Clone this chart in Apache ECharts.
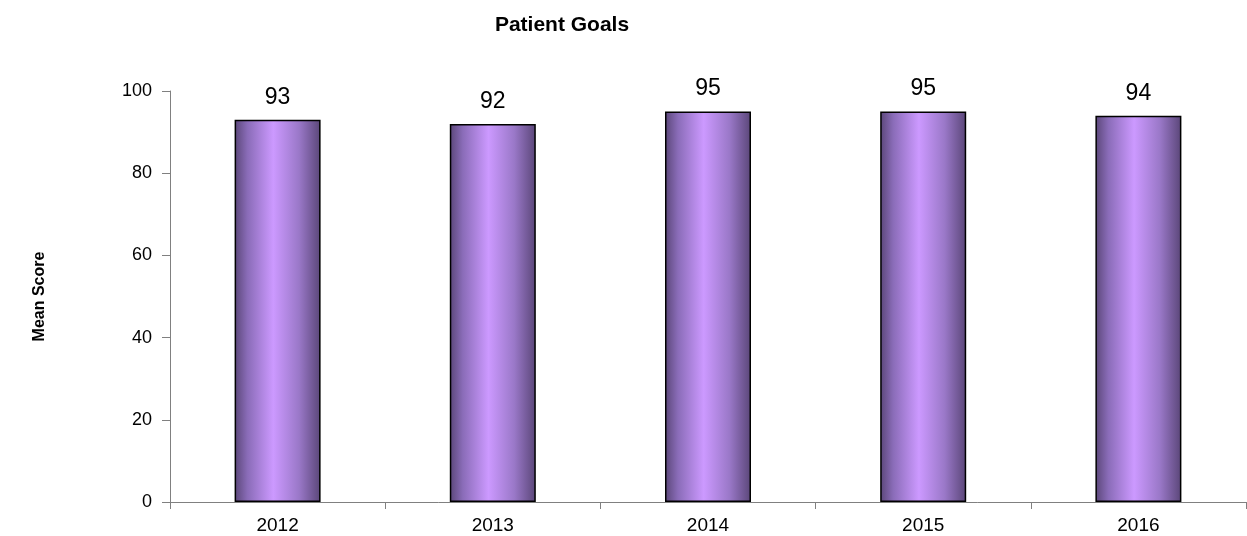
<!DOCTYPE html>
<html><head><meta charset="utf-8">
<script src="https://cdn.jsdelivr.net/npm/echarts@6/dist/echarts.min.js"></script>
<style>html,body{margin:0;padding:0;background:#fff}#c{width:1247px;height:536px}</style>
</head><body><div id="c"></div>
<script>
const categories = ['2012','2013','2014','2015','2016'];
const values = [93, 92, 95, 95, 94];
const yTicks = [0, 20, 40, 60, 80, 100];

const chart = echarts.init(document.getElementById('c'));
const grad = new echarts.graphic.LinearGradient(0,0,1,0,[
  {offset:0, color:'#5a4678'},
  {offset:0.15, color:'#8a6cb8'},
  {offset:0.45, color:'#cc99ff'},
  {offset:0.75, color:'#9a78c8'},
  {offset:1, color:'#5a4678'}
]);
chart.setOption({
  animation:false,
  title:{text:'Patient Goals', left:557, top:10, textAlign:'center',
    textStyle:{fontFamily:'Liberation Sans', fontWeight:'bold', fontSize:21, color:'#000'}},
  grid:{left:170, right:1, top:91, bottom:34},
  xAxis:{type:'category', data:categories,
    axisLine:{lineStyle:{color:'#808080', width:1}},
    axisTick:{show:true, inside:false, length:7, lineStyle:{color:'#808080'}},
    axisLabel:{fontFamily:'Liberation Sans', fontSize:19, color:'#000', margin:14}},
  yAxis:{type:'value', min:yTicks[0], max:yTicks[yTicks.length-1], interval:20,
    name:'Mean Score', nameLocation:'middle', nameGap:122, nameRotate:90,
    nameTextStyle:{fontFamily:'Liberation Sans', fontWeight:'bold', fontSize:16, color:'#000'},
    axisLine:{show:true, lineStyle:{color:'#808080'}},
    axisTick:{show:true, length:8, lineStyle:{color:'#808080'}},
    splitLine:{show:false},
    axisLabel:{fontFamily:'Liberation Sans', fontSize:18, color:'#000', margin:18}},
  series:[{type:'bar', data:values, barWidth:86,
    itemStyle:{color:grad, borderColor:'#000', borderWidth:1.5},
    label:{show:true, position:'top', distance:11, fontFamily:'Liberation Sans', fontSize:23, color:'#000'}}]
});
</script></body></html>
